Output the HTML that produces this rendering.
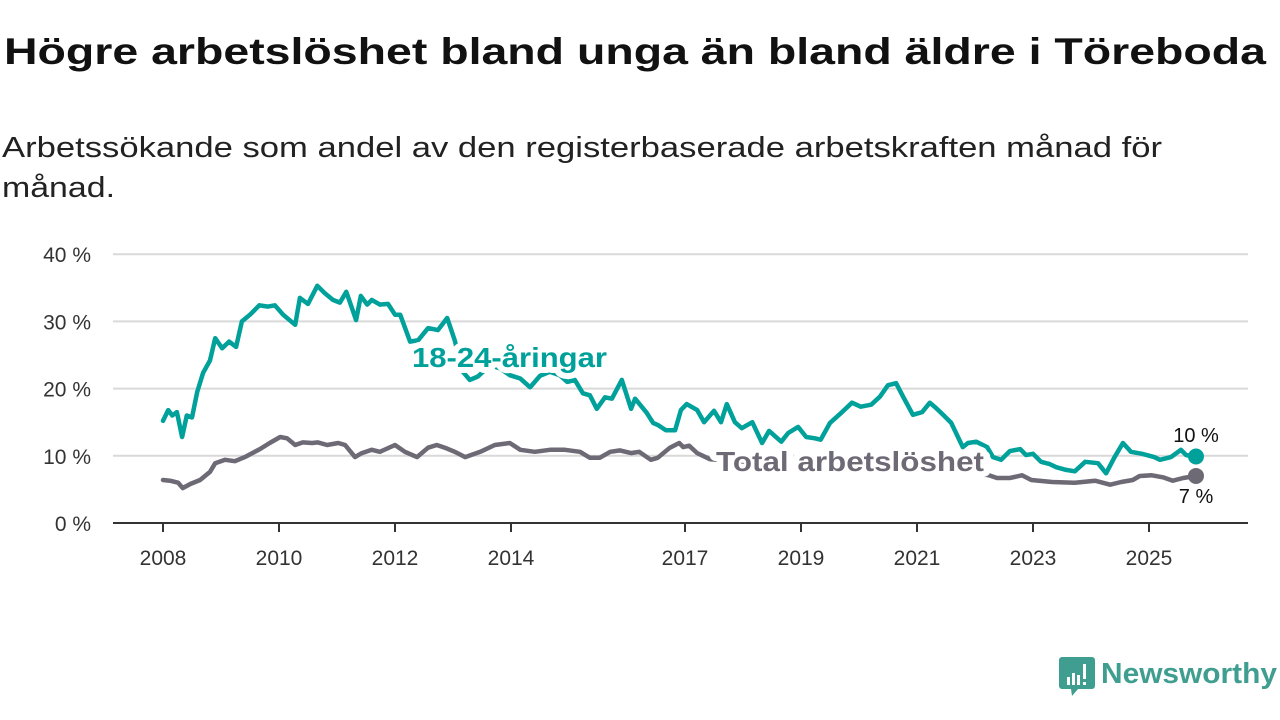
<!DOCTYPE html>
<html><head><meta charset="utf-8"><style>
html,body{margin:0;padding:0;background:#fff;}
svg{display:block;font-family:"Liberation Sans",sans-serif;}
</style></head><body>
<svg id="chart" width="1280" height="720" viewBox="0 0 1280 720" xmlns="http://www.w3.org/2000/svg">
<text x="4" y="64" font-size="37" font-weight="bold" fill="#111" textLength="1262" lengthAdjust="spacingAndGlyphs">Högre arbetslöshet bland unga än bland äldre i Töreboda</text>
<text x="2" y="157" font-size="29" fill="#222" textLength="1160" lengthAdjust="spacingAndGlyphs">Arbetssökande som andel av den registerbaserade arbetskraften månad för</text>
<text x="2" y="197" font-size="29" fill="#222" textLength="113" lengthAdjust="spacingAndGlyphs">månad.</text>
<g id="grid"></g>
<g id="yaxis"></g>
<g id="xaxis"></g>
<g id="series"></g>
<g id="labels"></g>
<g>
<path d="M1062 657 h30 a3 3 0 0 1 3 3 v26 a3 3 0 0 1 -3 3 h-14 l-6 7 l-1 -7 h-9 a3 3 0 0 1 -3 -3 v-26 a3 3 0 0 1 3 -3z" fill="#3f9e8f"/>
<rect x="1067" y="677" width="3" height="8" fill="#fff"/><rect x="1072" y="673" width="3" height="12" fill="#fff"/><rect x="1077" y="675" width="3" height="10" fill="#fff"/><rect x="1083" y="664" width="3" height="15" fill="#fff"/><rect x="1083" y="682" width="3" height="3" fill="#fff"/>
<text x="1101" y="683" font-size="29" font-weight="bold" fill="#3f9e8f" textLength="176" lengthAdjust="spacingAndGlyphs">Newsworthy</text>
</g>
</svg>
<script>
const yTicks = [0, 10, 20, 30, 40];
const yTickLabels = ["0 %", "10 %", "20 %", "30 %", "40 %"];
const xTicks = [2008, 2010, 2012, 2014, 2017, 2019, 2021, 2023, 2025];
const youthDates = [2008.00,2008.09,2008.16,2008.24,2008.33,2008.41,2008.50,2008.59,2008.69,2008.81,2008.90,2009.02,2009.14,2009.26,2009.36,2009.50,2009.66,2009.81,2009.93,2010.07,2010.28,2010.36,2010.50,2010.66,2010.79,2010.93,2011.05,2011.16,2011.33,2011.41,2011.52,2011.60,2011.74,2011.88,2012.00,2012.09,2012.26,2012.40,2012.57,2012.74,2012.90,2013.03,2013.17,2013.29,2013.43,2013.64,2013.81,2013.98,2014.16,2014.33,2014.50,2014.67,2014.84,2014.97,2015.10,2015.24,2015.36,2015.48,2015.62,2015.74,2015.91,2016.07,2016.14,2016.34,2016.45,2016.53,2016.67,2016.83,2016.93,2017.03,2017.21,2017.33,2017.50,2017.62,2017.72,2017.86,2017.98,2018.16,2018.33,2018.45,2018.66,2018.78,2018.95,2019.09,2019.24,2019.34,2019.50,2019.67,2019.88,2020.03,2020.21,2020.36,2020.50,2020.64,2020.76,2020.93,2021.09,2021.22,2021.33,2021.45,2021.59,2021.69,2021.79,2021.88,2022.02,2022.21,2022.31,2022.45,2022.60,2022.78,2022.88,2023.00,2023.14,2023.28,2023.40,2023.57,2023.72,2023.90,2024.12,2024.26,2024.40,2024.55,2024.69,2024.88,2025.09,2025.19,2025.38,2025.55,2025.64,2025.81];
const youthValues = [15.2,16.8,16.0,16.5,12.8,16.0,15.7,19.5,22.3,24.2,27.5,26.0,27.0,26.2,30.0,31.0,32.4,32.2,32.4,31.0,29.5,33.5,32.6,35.3,34.2,33.2,32.8,34.4,30.2,33.8,32.5,33.2,32.5,32.6,31.0,31.0,27.0,27.2,29.0,28.7,30.5,27.2,22.5,21.3,21.8,23.5,23.0,22.0,21.5,20.2,21.9,22.5,22.0,21.0,21.3,19.3,19.0,17.0,18.7,18.5,21.3,17.0,18.5,16.4,14.9,14.6,13.8,13.8,16.8,17.7,16.8,15.0,16.7,15.0,17.7,15.0,14.1,15.0,11.9,13.7,12.1,13.4,14.3,12.8,12.6,12.4,14.9,16.2,17.9,17.3,17.6,18.8,20.5,20.8,18.8,16.1,16.5,17.9,17.1,16.1,14.9,13.1,11.3,11.9,12.1,11.3,9.8,9.4,10.7,11.0,10.1,10.3,9.1,8.8,8.3,7.9,7.7,9.1,8.9,7.4,9.7,11.9,10.6,10.3,9.8,9.4,9.8,10.9,10.1,9.9];
const totalDates = [2008.00,2008.12,2008.26,2008.34,2008.47,2008.64,2008.81,2008.90,2009.07,2009.24,2009.41,2009.67,2009.84,2010.02,2010.14,2010.28,2010.41,2010.57,2010.67,2010.83,2011.02,2011.14,2011.31,2011.43,2011.60,2011.74,2012.00,2012.17,2012.38,2012.57,2012.72,2012.86,2013.03,2013.21,2013.47,2013.72,2013.98,2014.16,2014.41,2014.67,2014.93,2015.19,2015.36,2015.53,2015.71,2015.88,2016.07,2016.21,2016.41,2016.53,2016.74,2016.90,2016.97,2017.07,2017.21,2017.43,2018.29,2019.84,2021.57,2022.24,2022.38,2022.60,2022.81,2022.97,2023.33,2023.72,2024.07,2024.33,2024.52,2024.72,2024.84,2025.05,2025.24,2025.41,2025.59,2025.81];
const totalValues = [6.4,6.3,6.0,5.2,5.8,6.4,7.6,8.9,9.4,9.2,9.8,11.0,11.9,12.8,12.6,11.6,12.0,11.9,12.0,11.6,11.9,11.6,9.8,10.4,10.9,10.6,11.6,10.6,9.8,11.2,11.6,11.2,10.6,9.8,10.6,11.6,11.9,10.9,10.6,10.9,10.9,10.6,9.7,9.7,10.6,10.8,10.4,10.6,9.4,9.7,11.2,11.9,11.3,11.5,10.4,9.5,9.0,8.6,8.0,7.1,6.7,6.7,7.1,6.4,6.1,6.0,6.3,5.7,6.1,6.4,7.0,7.1,6.8,6.3,6.7,7.0];

const NS = "http://www.w3.org/2000/svg";
const X0 = 113, X1 = 1248, Y0 = 523;
function xs(year){ return 163 + (year - 2008) * 58.0; }
function ys(v){ return Y0 - v * 6.72; }
function mk(tag, attrs, parent){ const e = document.createElementNS(NS, tag); for (const k in attrs) e.setAttribute(k, attrs[k]); parent.appendChild(e); return e; }

const grid = document.getElementById('grid');
const yaxis = document.getElementById('yaxis');
yTicks.forEach((t, i) => {
  if (t > 0) {
    const g = mk('line', {x1: X0, x2: X1, y1: ys(t), y2: ys(t), stroke: '#d9d9d9', 'stroke-width': 2}, grid);
    
    
  }
  const l = mk('text', {x: 91, y: ys(t) + 8, 'font-size': 21, fill: '#333', 'text-anchor': 'end'}, yaxis);
  
  
  l.textContent = yTickLabels[i];
});
const xaxis = document.getElementById('xaxis');
const ax = mk('line', {x1: X0, x2: X1, y1: Y0, y2: Y0, stroke: '#333', 'stroke-width': 2}, xaxis);


xTicks.forEach(t => {
  const tk = mk('line', {x1: xs(t), x2: xs(t), y1: Y0, y2: Y0 + 9, stroke: '#333', 'stroke-width': 2}, xaxis);
  
  
  const l = mk('text', {x: xs(t), y: 565, 'font-size': 21, fill: '#333', 'text-anchor': 'middle'}, xaxis);
  
  
  l.textContent = t;
});
const series = document.getElementById('series');
function line(dates, vals, color, name){
  const d = dates.map((t, i) => (i ? 'L' : 'M') + xs(t).toFixed(1) + ' ' + ys(vals[i]).toFixed(1)).join(' ');
  const p = mk('path', {d: d, fill: 'none', stroke: color, 'stroke-width': 4.5, 'stroke-linejoin': 'round', 'stroke-linecap': 'round'}, series);
  
  
  const n = dates.length - 1;
  const c = mk('circle', {cx: xs(dates[n]), cy: ys(vals[n]), r: 8, fill: color}, series);
  
  
}
line(totalDates, totalValues, '#6d6a75', 'total-line');
line(youthDates, youthValues, '#00a19a', 'youth-line');
const labels = document.getElementById('labels');
function lab(x, y, txt, color, size, bold, name, anchor, halo, len){
  const t = mk('text', {x: x, y: y, 'font-size': size, fill: color, 'font-weight': bold ? 'bold' : 'normal', 'text-anchor': anchor || 'start'}, labels);
  if (halo) { t.setAttribute('stroke', '#fff'); t.setAttribute('stroke-width', halo); t.setAttribute('paint-order', 'stroke'); t.setAttribute('stroke-linejoin', 'round'); }
  if (len) { t.setAttribute('textLength', len); t.setAttribute('lengthAdjust', 'spacingAndGlyphs'); }
  
  
  t.textContent = txt;
}
lab(412, 367, '18-24-åringar', '#00a19a', 28, true, 'youth-series-label', 'start', 12, 195);
lab(716, 471, 'Total arbetslöshet', '#6d6a75', 28, true, 'total-series-label', 'start', 12, 268);
lab(1196, 442, '10 %', '#111', 20, false, 'youth-end-value', 'middle', 0, 0);
lab(1196, 503, '7 %', '#111', 20, false, 'total-end-value', 'middle', 0, 0);
</script>
</body></html>
